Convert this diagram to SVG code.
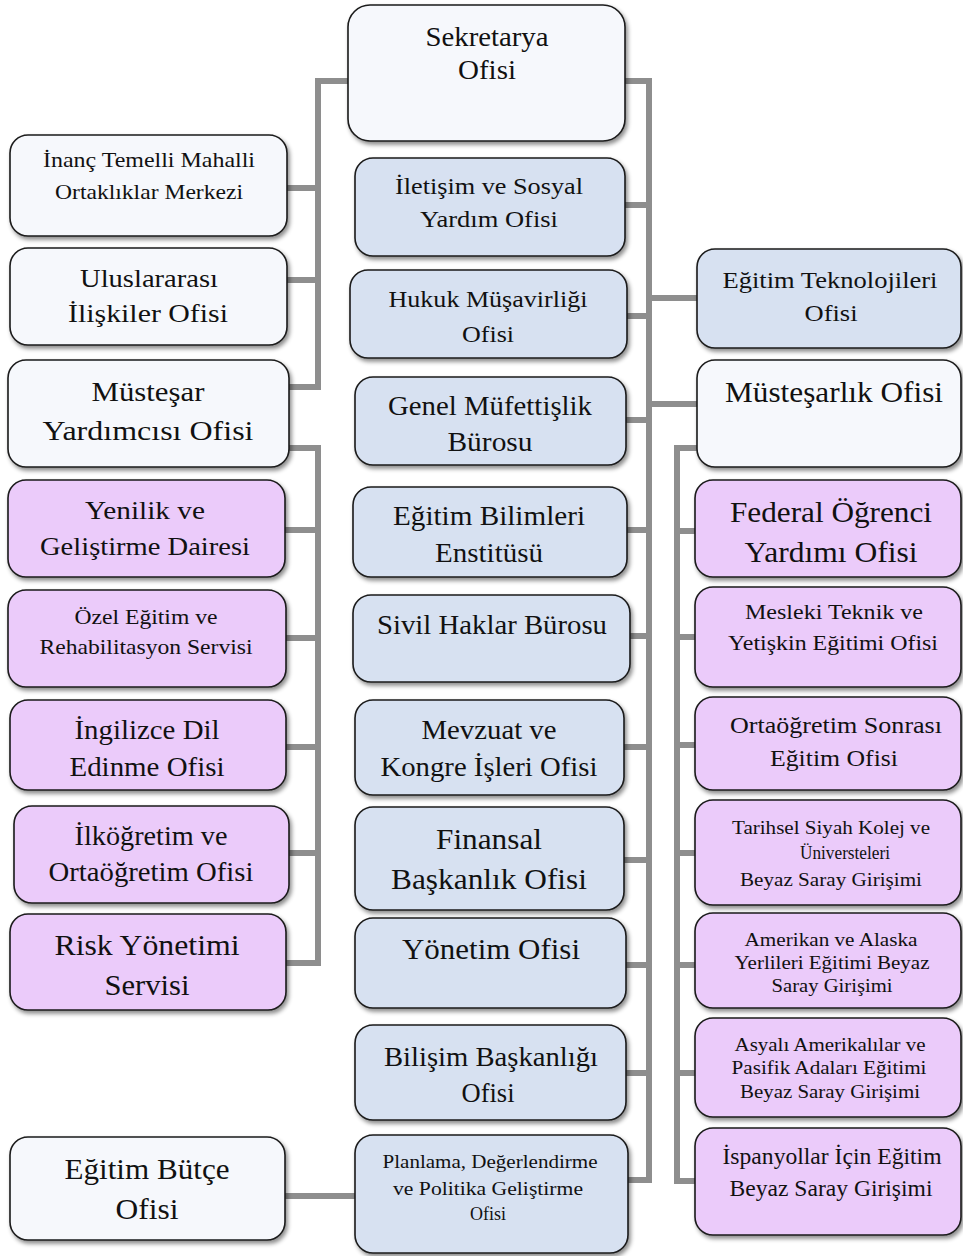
<svg xmlns="http://www.w3.org/2000/svg" width="963" height="1256" viewBox="0 0 963 1256">
<style>
.box{stroke:#1a1a1a;stroke-width:1.6;filter:url(#sh)}
.w{fill:#f6f8fc}
.b{fill:#d7e1f1}
.p{fill:#ebcbfa}
.c{fill:none;stroke:#8e8e8e;stroke-width:6;stroke-linejoin:miter}
text{font-family:"Liberation Serif","Times New Roman",serif;fill:#111;text-anchor:middle}
</style>
<defs>
<filter id="sh" x="-10%" y="-10%" width="125%" height="130%">
<feDropShadow dx="2" dy="3" stdDeviation="2" flood-color="#000" flood-opacity="0.45"/>
</filter>
</defs>
<rect width="963" height="1256" fill="#ffffff"/>
<g id="connectors">
<path class="c" d="M348,81 H318 V387 H289"/>
<path class="c" d="M287,188 H318 M287,280 H318"/>
<path class="c" d="M289,448 H318 V963 H286"/>
<path class="c" d="M285,530 H318 M286,638 H318 M286,747 H318 M289,853 H318"/>
<path class="c" d="M625,81 H649 V1180 H628"/>
<path class="c" d="M625,205 H649 M627,316 H649 M626,420 H649 M627,530 H649 M630,636 H649 M624,747 H649 M624,860 H649 M626,965 H649 M626,1073 H649"/>
<path class="c" d="M649,298 H697 M649,404 H697"/>
<path class="c" d="M697,448 H677 V1181 H695"/>
<path class="c" d="M677,531 H695 M677,637 H695 M677,745 H695 M677,853 H695 M677,965 H695 M677,1073 H695"/>
<path class="c" d="M285,1196 H355"/>
</g>
<g id="n-inanc"><rect class="box w" x="10" y="135" width="277" height="101" rx="18"/>
<text x="149" y="167" font-size="21" textLength="212" lengthAdjust="spacingAndGlyphs">İnanç Temelli Mahalli</text>
<text x="149" y="199" font-size="21" textLength="188" lengthAdjust="spacingAndGlyphs">Ortaklıklar Merkezi</text></g>
<g id="n-uluslararasi"><rect class="box w" x="10" y="248" width="277" height="97" rx="18"/>
<text x="149" y="287" font-size="26" textLength="138" lengthAdjust="spacingAndGlyphs">Uluslararası</text>
<text x="148" y="322" font-size="26" textLength="160" lengthAdjust="spacingAndGlyphs">İlişkiler Ofisi</text></g>
<g id="n-mustesar-yardimcisi"><rect class="box w" x="8" y="360" width="281" height="107" rx="18"/>
<text x="148" y="401" font-size="28" textLength="113" lengthAdjust="spacingAndGlyphs">Müsteşar</text>
<text x="148" y="440" font-size="28" textLength="211" lengthAdjust="spacingAndGlyphs">Yardımcısı Ofisi</text></g>
<g id="n-yenilik"><rect class="box p" x="8" y="480" width="277" height="97" rx="18"/>
<text x="145" y="519" font-size="26" textLength="120" lengthAdjust="spacingAndGlyphs">Yenilik ve</text>
<text x="145" y="555" font-size="26" textLength="210" lengthAdjust="spacingAndGlyphs">Geliştirme Dairesi</text></g>
<g id="n-ozel"><rect class="box p" x="8" y="590" width="278" height="97" rx="18"/>
<text x="146" y="624" font-size="21" textLength="143" lengthAdjust="spacingAndGlyphs">Özel Eğitim ve</text>
<text x="146" y="654" font-size="21" textLength="213" lengthAdjust="spacingAndGlyphs">Rehabilitasyon Servisi</text></g>
<g id="n-ingilizce"><rect class="box p" x="10" y="700" width="276" height="90" rx="18"/>
<text x="147" y="739" font-size="28" textLength="145" lengthAdjust="spacingAndGlyphs">İngilizce Dil</text>
<text x="147" y="776" font-size="28" textLength="155" lengthAdjust="spacingAndGlyphs">Edinme Ofisi</text></g>
<g id="n-ilkogretim"><rect class="box p" x="14" y="806" width="275" height="97" rx="18"/>
<text x="151" y="845" font-size="27" textLength="153" lengthAdjust="spacingAndGlyphs">İlköğretim ve</text>
<text x="151" y="881" font-size="27" textLength="205" lengthAdjust="spacingAndGlyphs">Ortaöğretim Ofisi</text></g>
<g id="n-risk"><rect class="box p" x="10" y="914" width="276" height="96" rx="18"/>
<text x="147" y="955" font-size="29" textLength="185" lengthAdjust="spacingAndGlyphs">Risk Yönetimi</text>
<text x="147" y="995" font-size="29" textLength="85" lengthAdjust="spacingAndGlyphs">Servisi</text></g>
<g id="n-butce"><rect class="box w" x="10" y="1137" width="275" height="103" rx="18"/>
<text x="147" y="1179" font-size="29" textLength="165" lengthAdjust="spacingAndGlyphs">Eğitim Bütçe</text>
<text x="147" y="1219" font-size="29" textLength="63" lengthAdjust="spacingAndGlyphs">Ofisi</text></g>
<g id="n-sekretarya"><rect class="box w" x="348" y="5" width="277" height="136" rx="22"/>
<text x="487" y="46" font-size="27" textLength="123" lengthAdjust="spacingAndGlyphs">Sekretarya</text>
<text x="487" y="79" font-size="27" textLength="58" lengthAdjust="spacingAndGlyphs">Ofisi</text></g>
<g id="n-iletisim"><rect class="box b" x="355" y="158" width="270" height="98" rx="18"/>
<text x="489" y="194" font-size="23" textLength="188" lengthAdjust="spacingAndGlyphs">İletişim ve Sosyal</text>
<text x="489" y="227" font-size="23" textLength="138" lengthAdjust="spacingAndGlyphs">Yardım Ofisi</text></g>
<g id="n-hukuk"><rect class="box b" x="350" y="270" width="277" height="88" rx="18"/>
<text x="488" y="307" font-size="23" textLength="199" lengthAdjust="spacingAndGlyphs">Hukuk Müşavirliği</text>
<text x="488" y="342" font-size="23" textLength="52" lengthAdjust="spacingAndGlyphs">Ofisi</text></g>
<g id="n-genel"><rect class="box b" x="355" y="377" width="271" height="88" rx="18"/>
<text x="490" y="415" font-size="27" textLength="204" lengthAdjust="spacingAndGlyphs">Genel Müfettişlik</text>
<text x="490" y="451" font-size="27" textLength="85" lengthAdjust="spacingAndGlyphs">Bürosu</text></g>
<g id="n-egitim-bilimleri"><rect class="box b" x="353" y="487" width="274" height="90" rx="18"/>
<text x="489" y="525" font-size="27" textLength="192" lengthAdjust="spacingAndGlyphs">Eğitim Bilimleri</text>
<text x="489" y="562" font-size="27" textLength="108" lengthAdjust="spacingAndGlyphs">Enstitüsü</text></g>
<g id="n-sivil"><rect class="box b" x="353" y="595" width="277" height="87" rx="18"/>
<text x="492" y="634" font-size="27" textLength="230" lengthAdjust="spacingAndGlyphs">Sivil Haklar Bürosu</text></g>
<g id="n-mevzuat"><rect class="box b" x="355" y="700" width="269" height="95" rx="18"/>
<text x="489" y="739" font-size="28" textLength="135" lengthAdjust="spacingAndGlyphs">Mevzuat ve</text>
<text x="489" y="776" font-size="28" textLength="217" lengthAdjust="spacingAndGlyphs">Kongre İşleri Ofisi</text></g>
<g id="n-finansal"><rect class="box b" x="355" y="807" width="269" height="103" rx="18"/>
<text x="489" y="849" font-size="29" textLength="106" lengthAdjust="spacingAndGlyphs">Finansal</text>
<text x="489" y="889" font-size="29" textLength="196" lengthAdjust="spacingAndGlyphs">Başkanlık Ofisi</text></g>
<g id="n-yonetim"><rect class="box b" x="355" y="918" width="271" height="90" rx="18"/>
<text x="491" y="959" font-size="29" textLength="178" lengthAdjust="spacingAndGlyphs">Yönetim Ofisi</text></g>
<g id="n-bilisim"><rect class="box b" x="355" y="1025" width="271" height="95" rx="18"/>
<text x="491" y="1066" font-size="27" textLength="214" lengthAdjust="spacingAndGlyphs">Bilişim Başkanlığı</text>
<text x="488" y="1102" font-size="27" textLength="53" lengthAdjust="spacingAndGlyphs">Ofisi</text></g>
<g id="n-planlama"><rect class="box b" x="355" y="1135" width="273" height="118" rx="18"/>
<text x="490" y="1168" font-size="18" textLength="215" lengthAdjust="spacingAndGlyphs">Planlama, Değerlendirme</text>
<text x="488" y="1195" font-size="18" textLength="190" lengthAdjust="spacingAndGlyphs">ve Politika Geliştirme</text>
<text x="488" y="1220" font-size="18" textLength="36" lengthAdjust="spacingAndGlyphs">Ofisi</text></g>
<g id="n-egitim-teknolojileri"><rect class="box b" x="697" y="249" width="264" height="99" rx="18"/>
<text x="830" y="288" font-size="23" textLength="215" lengthAdjust="spacingAndGlyphs">Eğitim Teknolojileri</text>
<text x="831" y="321" font-size="23" textLength="53" lengthAdjust="spacingAndGlyphs">Ofisi</text></g>
<g id="n-mustesarlik"><rect class="box w" x="697" y="360" width="264" height="107" rx="18"/>
<text x="834" y="402" font-size="29" textLength="218" lengthAdjust="spacingAndGlyphs">Müsteşarlık Ofisi</text></g>
<g id="n-federal"><rect class="box p" x="695" y="480" width="266" height="97" rx="18"/>
<text x="831" y="522" font-size="30" textLength="202" lengthAdjust="spacingAndGlyphs">Federal Öğrenci</text>
<text x="831" y="562" font-size="30" textLength="173" lengthAdjust="spacingAndGlyphs">Yardımı Ofisi</text></g>
<g id="n-mesleki"><rect class="box p" x="695" y="587" width="266" height="100" rx="18"/>
<text x="834" y="619" font-size="22" textLength="178" lengthAdjust="spacingAndGlyphs">Mesleki Teknik ve</text>
<text x="833" y="650" font-size="22" textLength="210" lengthAdjust="spacingAndGlyphs">Yetişkin Eğitimi Ofisi</text></g>
<g id="n-ortaogretim-sonrasi"><rect class="box p" x="695" y="697" width="266" height="93" rx="18"/>
<text x="836" y="733" font-size="23" textLength="212" lengthAdjust="spacingAndGlyphs">Ortaöğretim Sonrası</text>
<text x="834" y="766" font-size="23" textLength="128" lengthAdjust="spacingAndGlyphs">Eğitim Ofisi</text></g>
<g id="n-tarihsel"><rect class="box p" x="695" y="800" width="266" height="105" rx="18"/>
<text x="831" y="834" font-size="19" textLength="198" lengthAdjust="spacingAndGlyphs">Tarihsel Siyah Kolej ve</text>
<text x="845" y="859" font-size="19" textLength="90" lengthAdjust="spacingAndGlyphs">Üniversteleri</text>
<text x="831" y="886" font-size="19" textLength="182" lengthAdjust="spacingAndGlyphs">Beyaz Saray Girişimi</text></g>
<g id="n-amerikan"><rect class="box p" x="695" y="913" width="266" height="95" rx="18"/>
<text x="831" y="946" font-size="19" textLength="173" lengthAdjust="spacingAndGlyphs">Amerikan ve Alaska</text>
<text x="832" y="969" font-size="19" textLength="195" lengthAdjust="spacingAndGlyphs">Yerlileri Eğitimi Beyaz</text>
<text x="832" y="992" font-size="19" textLength="121" lengthAdjust="spacingAndGlyphs">Saray Girişimi</text></g>
<g id="n-asyali"><rect class="box p" x="695" y="1018" width="266" height="99" rx="18"/>
<text x="830" y="1051" font-size="19" textLength="191" lengthAdjust="spacingAndGlyphs">Asyalı Amerikalılar ve</text>
<text x="829" y="1074" font-size="19" textLength="195" lengthAdjust="spacingAndGlyphs">Pasifik Adaları Eğitimi</text>
<text x="830" y="1098" font-size="19" textLength="180" lengthAdjust="spacingAndGlyphs">Beyaz Saray Girişimi</text></g>
<g id="n-ispanyollar"><rect class="box p" x="695" y="1128" width="266" height="107" rx="18"/>
<text x="832" y="1164" font-size="23" textLength="219" lengthAdjust="spacingAndGlyphs">İspanyollar İçin Eğitim</text>
<text x="831" y="1196" font-size="23" textLength="203" lengthAdjust="spacingAndGlyphs">Beyaz Saray Girişimi</text></g>
</svg>
